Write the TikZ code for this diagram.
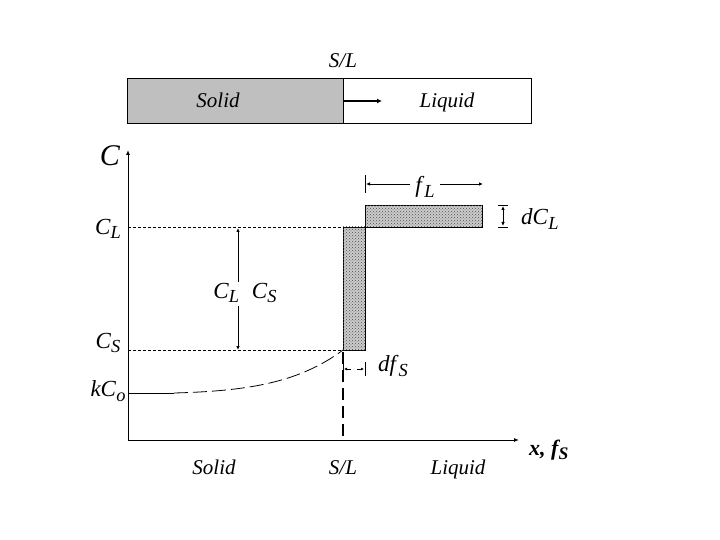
\documentclass[tikz,border=0pt]{standalone}
\usepackage{fontspec}
\setmainfont{Liberation Serif}
\usetikzlibrary{arrows.meta,patterns}
\newcommand\sbx[2]{\textit{#1}\raisebox{-0.45ex}{\scalebox{0.8}{\textit{#2}}}}
\tikzset{
  lab/.style={font=\fontsize{21}{23}\selectfont\itshape, inner sep=0pt, anchor=base},
  biglab/.style={font=\fontsize{23}{25}\selectfont, inner sep=0pt},
  ax/.style={line width=1pt, -{Latex[length=5pt,width=4pt]}},
  guide/.style={line width=0.7pt, dash pattern=on 3pt off 2pt},
  stip/.style={draw=black, line width=0.9pt, fill=black!20, postaction={pattern=crosshatch dots, pattern color=black!70}},
  dim/.style={line width=0.9pt, -{Latex[length=4pt,width=3.5pt]}},
}
\begin{document}
\begin{tikzpicture}[x=1pt,y=-1pt]
\useasboundingbox (0,0) rectangle (720,540);
% top bar
\coordinate (tl) at (127,78);
\coordinate (tm) at (343,123);
\coordinate (tr) at (531,123);
\coordinate (tmt) at (343,78);
\fill[black!25] (tl) rectangle (tm);
\draw[line width=0.9pt] (tl) rectangle (tr);
\draw[line width=0.9pt] (tmt) -- (tm);
\coordinate (ba) at (343,101);
\coordinate (bb) at (382,101);
\draw[line width=1.6pt, -{Latex[length=5pt,width=5pt]}] (ba) -- (bb);
\node[lab] (slt) at (343,68) {S/L};
\node[lab] (solt) at (218,108) {Solid};
\node[lab] (liqt) at (447,108) {Liquid};
% axes
\coordinate (o) at (128,440);
\coordinate (ytop) at (128,150);
\coordinate (xend) at (519,440);
\draw[ax] (o) -- (ytop);
\draw[ax] (o) -- (xend);
\node[biglab, font=\fontsize{30}{32}\selectfont\itshape] (cax) at (110,156) {C};
\node[biglab, font=\fontsize{22}{24}\selectfont\bfseries\itshape, anchor=west] (xax) at (529,450) {x, \sbx{f}{S}};
% guides
\coordinate (cl0) at (128,227);
\coordinate (cl1) at (343,227);
\coordinate (cs0) at (128,350);
\coordinate (cs1) at (343,350);
\draw[guide] (cl0) -- (cl1);
\draw[guide] (cs0) -- (cs1);
\node[biglab] (clab) at (108,229) {\sbx{C}{L}};
\node[biglab] (cslab) at (108,343) {\sbx{C}{S}};
\node[biglab] (kco) at (108,391) {\textit{kC}\raisebox{-0.4ex}{\scalebox{0.8}{\textit{o}}}};
% delta arrow
\coordinate (da) at (238,282);
\coordinate (db) at (238,228);
\coordinate (dc) at (238,306);
\coordinate (dd) at (238,350);
\draw[dim] (da) -- (db);
\draw[dim] (dc) -- (dd);
\node[biglab] (dlab) at (245,293) {\sbx{C}{L}\hspace{0.55em}\sbx{C}{S}};
% shaded rectangles
\coordinate (v0) at (343,227);
\coordinate (v1) at (365,350);
\coordinate (h0) at (365,205);
\coordinate (h1) at (482,227);
\draw[stip] (v0) rectangle (v1);
\draw[stip] (h0) rectangle (h1);
% f_L dimension
\coordinate (ft0) at (365,175);
\coordinate (ft1) at (365,193);
\draw[line width=0.8pt] (ft0) -- (ft1);
\coordinate (fa0) at (410,184);
\coordinate (fa1) at (366,184);
\coordinate (fb0) at (440,184);
\coordinate (fb1) at (483,184);
\draw[dim] (fa0) -- (fa1);
\draw[dim] (fb0) -- (fb1);
\node[biglab] (fl) at (425,187) {\sbx{f}{L}};
% dC_L
\coordinate (dcl0) at (503,216);
\coordinate (dcl1) at (503,206);
\coordinate (dcl2) at (503,226);
\draw[dim] (dcl0) -- (dcl1);
\draw[dim] (dcl0) -- (dcl2);
\draw[line width=0.8pt] (498,205) -- (508,205) (498,227) -- (508,227);
\node[biglab, anchor=west] (dcl) at (521,219) {\sbx{dC}{L}};
% df_S
\coordinate (dt0) at (343,362);
\coordinate (dt1) at (343,376);
\coordinate (dt2) at (365,362);
\coordinate (dt3) at (365,376);
\draw[line width=0.9pt] (dt0) -- (dt1) (dt2) -- (dt3);
\coordinate (dm0) at (351,369);
\coordinate (dm1) at (344,369);
\coordinate (dm2) at (357,369);
\coordinate (dm3) at (364,369);
\draw[line width=0.8pt, -{Latex[length=3pt,width=3pt]}] (dm0) -- (dm1);
\draw[line width=0.8pt, -{Latex[length=3pt,width=3pt]}] (dm2) -- (dm3);
\node[biglab, anchor=west] (dfs) at (378,366) {\sbx{df}{S}};
% S/L dashed line
\coordinate (sl0) at (343,352);
\coordinate (sl1) at (343,440);
\draw[line width=1.6pt, dash pattern=on 12pt off 6pt] (sl0) -- (sl1);
% profile curve
\coordinate (k0) at (128,393);
\coordinate (k1) at (174,393);
\draw[line width=0.8pt] (k0) -- (k1);
\draw[line width=0.8pt, dash pattern=on 14pt off 5pt] (k1) .. controls (250,391) and (300,382) .. (cs1);
% bottom labels
\node[lab] (solb) at (214,474) {Solid};
\node[lab] (slb) at (343,474) {S/L};
\node[lab] (liqb) at (458,474) {Liquid};
\end{tikzpicture}
\end{document}
